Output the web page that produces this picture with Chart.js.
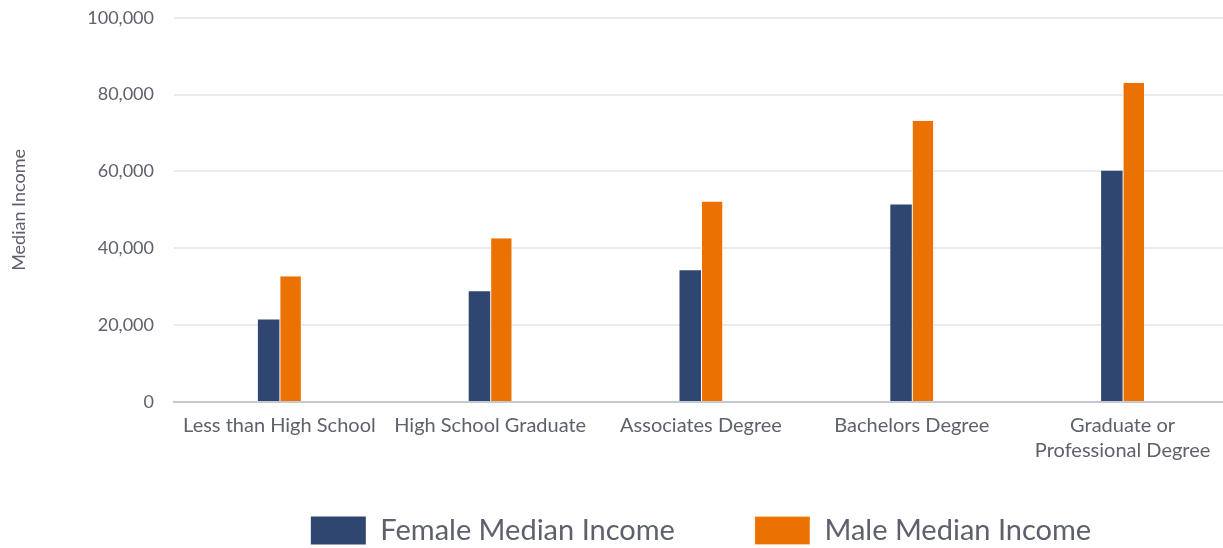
<!DOCTYPE html>
<html>
<head>
<meta charset="utf-8">
<script src="https://cdn.jsdelivr.net/npm/chart.js@4/dist/chart.umd.min.js"></script>
<style>
html,body{margin:0;padding:0;background:#fff;overflow:hidden;width:1223px;height:548px;}
#wrap{width:1228px;height:568px;position:relative;margin-top:-13px;}
</style>
</head>
<body>
<div id="wrap"><canvas id="c"></canvas></div>
<script>
const categories = ["Less than High School", "High School Graduate", "Associates Degree", "Bachelors Degree", ["Graduate or", "Professional Degree"]];
const femaleIncome = [21500, 28800, 34300, 51400, 60200];
const maleIncome = [32700, 42600, 52200, 73200, 83100];
const seriesNames = ["Female Median Income", "Male Median Income"];
const yTitle = "Median Income";

const fontFam = "Lato, 'Open Sans', sans-serif";
const textColor = "#5d616b";

new Chart(document.getElementById('c'), {
  type: 'bar',
  data: {
    labels: categories,
    datasets: [
      { label: seriesNames[0], data: femaleIncome, backgroundColor: '#2f4670', borderWidth: 0,
        categoryPercentage: 0.204, barPercentage: 1 },
      { label: seriesNames[1], data: maleIncome, backgroundColor: '#eb7100', borderColor: '#ffffff',
        borderWidth: {left: 1, top: 0, right: 0, bottom: 0}, borderSkipped: false,
        categoryPercentage: 0.204, barPercentage: 1 }
    ]
  },
  options: {
    responsive: true,
    maintainAspectRatio: false,
    animation: false,
    layout: { padding: { top: 0, left: 4, right: 0, bottom: 0 } },
    plugins: {
      tooltip: { enabled: false },
      legend: {
        position: 'bottom',
        fullSize: false,
        labels: {
          boxWidth: 55, boxHeight: 28, padding: 80,
          color: textColor,
          font: { family: fontFam, size: 29 }
        }
      }
    },
    scales: {
      x: {
        grid: { display: false, drawTicks: false },
        border: { display: true, color: '#c5c8d3', width: 2 },
        ticks: { color: textColor, font: { family: fontFam, size: 20, lineHeight: 1.25 }, padding: 11, maxRotation: 0, autoSkip: false },
        afterFit: s => { s.height = 34; s._computeLabelArea = () => undefined; }
      },
      y: {
        min: 0, max: 100000,
        ticks: {
          stepSize: 20000, color: textColor, padding: 20,
          font: { family: fontFam, size: 18 },
          callback: v => v.toLocaleString('en-US')
        },
        grid: { color: '#ebebeb', lineWidth: 2, drawTicks: false },
        border: { display: false },
        title: { display: true, text: yTitle, color: textColor, font: { family: fontFam, size: 18 }, padding: { top: 4, bottom: 20 } },
        afterFit: s => { s.width = 170; }
      }
    }
  }
});
</script>
</body>
</html>
